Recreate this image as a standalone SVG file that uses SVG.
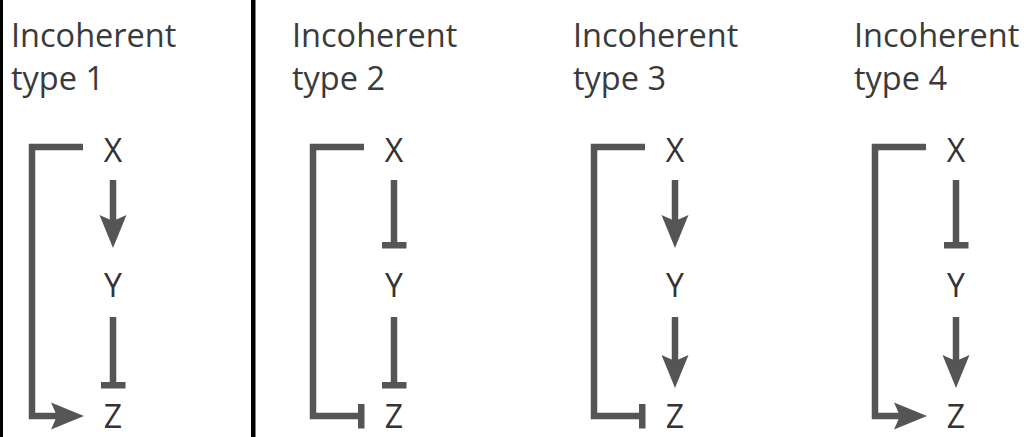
<svg xmlns="http://www.w3.org/2000/svg" width="1028" height="437" viewBox="0 0 1028 437">
  <style>
    .title { font-family: "Open Sans", "Liberation Sans", sans-serif; font-size: 32.5px; fill: #3a3a3a; }
    .lbl { font-family: "Open Sans", "Liberation Sans", sans-serif; font-size: 32px; fill: #333333; text-anchor: middle; }
    .edge { fill: none; stroke: #555555; stroke-width: 6.5; stroke-linejoin: miter; stroke-linecap: butt; }
    .act { marker-end: url(#arrow); }
    .inh { marker-end: url(#bar); }
  </style>
  <defs>
    <!-- activation head: notched triangle, line ends at the notch -->
    <marker id="arrow" markerUnits="userSpaceOnUse" viewBox="0 0 33 28" markerWidth="33" markerHeight="28" refX="6" refY="14" orient="auto">
      <path d="M0,0.5 L33,14 L0,27.5 L6,14 Z" fill="#555555"/>
    </marker>
    <!-- repression head: flat bar across the line end -->
    <marker id="bar" markerUnits="userSpaceOnUse" viewBox="0 0 7 25" markerWidth="7" markerHeight="25" refX="3.5" refY="12.5" orient="auto">
      <rect x="0" y="0" width="7" height="25" fill="#555555"/>
    </marker>
  </defs>

  <!-- frame lines -->
  <rect x="0" y="0" width="3" height="437" fill="#000000"/>
  <rect x="251" y="0" width="4.5" height="437" fill="#000000"/>

  <!-- titles -->
  <g id="titles">
    <text class="title" x="11" y="47">Incoherent</text>
    <text class="title" x="11" y="90">type 1</text>
    <text class="title" x="292" y="47">Incoherent</text>
    <text class="title" x="292" y="90">type 2</text>
    <text class="title" x="573" y="47">Incoherent</text>
    <text class="title" x="573" y="90">type 3</text>
    <text class="title" x="854" y="47">Incoherent</text>
    <text class="title" x="854" y="90">type 4</text>
  </g>

  <!-- connectors -->
  <g id="connectors">
    <!-- type 1 -->
    <path class="edge act" d="M83,147 H32 V416 H57"/>
    <path class="edge act" d="M113,180 V221"/>
    <path class="edge inh" d="M113,317 V385"/>
    <!-- type 2 -->
    <path class="edge inh" d="M364,147 H313 V416 H361"/>
    <path class="edge inh" d="M394,180 V245"/>
    <path class="edge inh" d="M394,317 V385"/>
    <!-- type 3 -->
    <path class="edge inh" d="M645,147 H594 V416 H642"/>
    <path class="edge act" d="M675,180 V221"/>
    <path class="edge act" d="M675,317 V361"/>
    <!-- type 4 -->
    <path class="edge act" d="M926,147 H875 V416 H900"/>
    <path class="edge inh" d="M956,180 V245"/>
    <path class="edge act" d="M956,317 V361"/>
  </g>

  <!-- nodes -->
  <g id="t1-x"><text class="lbl" x="113" y="162">X</text></g>
  <g id="t1-y"><text class="lbl" x="113" y="297">Y</text></g>
  <g id="t1-z"><text class="lbl" x="113" y="428">Z</text></g>
  <g id="t2-x"><text class="lbl" x="394" y="162">X</text></g>
  <g id="t2-y"><text class="lbl" x="394" y="297">Y</text></g>
  <g id="t2-z"><text class="lbl" x="394" y="428">Z</text></g>
  <g id="t3-x"><text class="lbl" x="675" y="162">X</text></g>
  <g id="t3-y"><text class="lbl" x="675" y="297">Y</text></g>
  <g id="t3-z"><text class="lbl" x="675" y="428">Z</text></g>
  <g id="t4-x"><text class="lbl" x="956" y="162">X</text></g>
  <g id="t4-y"><text class="lbl" x="956" y="297">Y</text></g>
  <g id="t4-z"><text class="lbl" x="956" y="428">Z</text></g>
</svg>
